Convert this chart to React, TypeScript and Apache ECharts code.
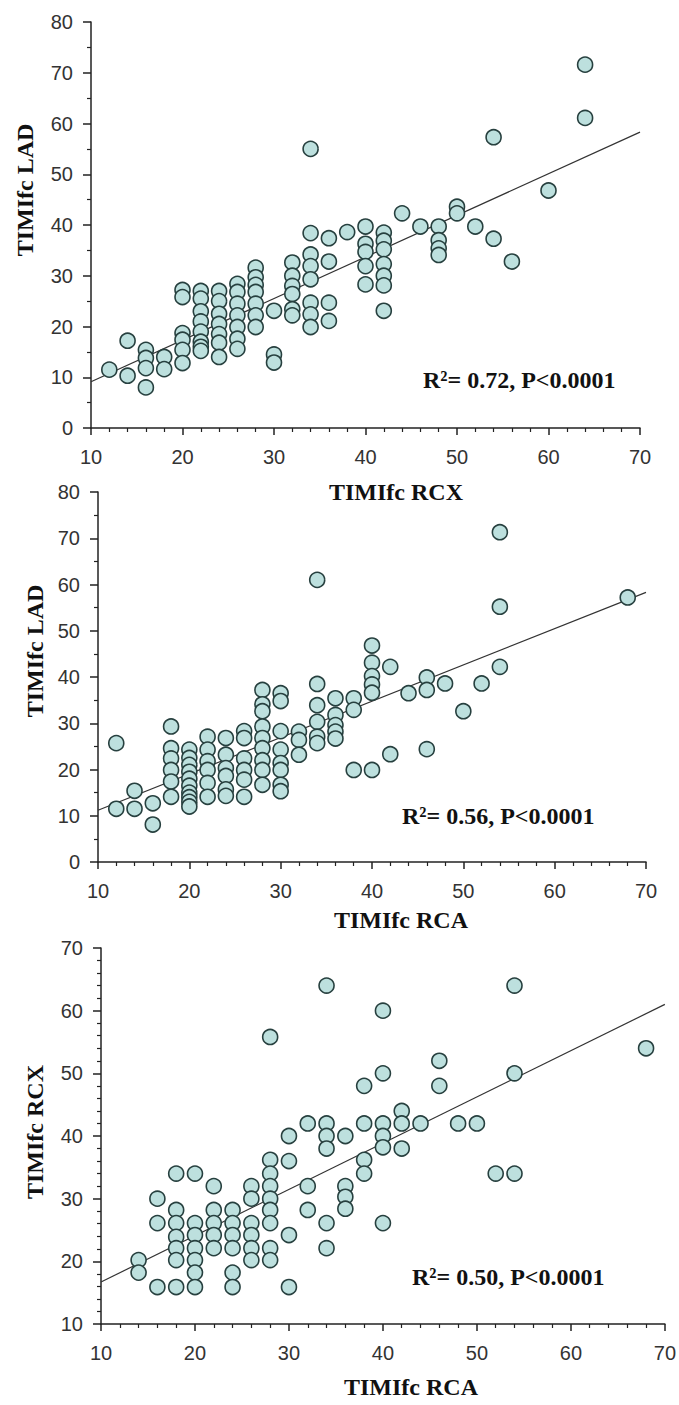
import React, { useEffect, useRef } from "react";
import * as echarts from "echarts";

// Panel 1: x = TIMIfc RCX, y = TIMIfc LAD
const rcxLad: number[][] = [
  [12, 11.5], [14, 17.2], [14, 10.3],
  [16, 15.4], [16, 13.8], [16, 11.8], [16, 8],
  [18, 14], [18, 11.6],
  [20, 27.2], [20, 25.8], [20, 18.7], [20, 17.4], [20, 15.4], [20, 12.8],
  [22, 27], [22, 25.5], [22, 23], [22, 21], [22, 19], [22, 17], [22, 16], [22, 15.2],
  [24, 27], [24, 25], [24, 22.5], [24, 20.5], [24, 18.5], [24, 16.8], [24, 14],
  [26, 28.4], [26, 26.8], [26, 24.5], [26, 22.2], [26, 19.9], [26, 17.6], [26, 15.6],
  [28, 31.6], [28, 29.7], [28, 28.2], [28, 26.8], [28, 24.5], [28, 22.2], [28, 19.9],
  [30, 23.1], [30, 14.5], [30, 12.9],
  [32, 32.6], [32, 30], [32, 28], [32, 26.4], [32, 23.4], [32, 22.2],
  [34, 55], [34, 38.4], [34, 34.2], [34, 31.9], [34, 29.3], [34, 24.7], [34, 22.4], [34, 19.9],
  [36, 37.4], [36, 32.8], [36, 24.7], [36, 21.1],
  [38, 38.6],
  [40, 39.7], [40, 36.3], [40, 34.7], [40, 31.9], [40, 28.3],
  [42, 38.5], [42, 36.9], [42, 35.2], [42, 32.3], [42, 30], [42, 28.1], [42, 23.1],
  [44, 42.3], [46, 39.7],
  [48, 39.7], [48, 37], [48, 35.4], [48, 34.1],
  [50, 43.6], [50, 42.3],
  [52, 39.7], [54, 57.3], [54, 37.3], [56, 32.8], [60, 46.8], [64, 71.6], [64, 61.1],
];

// Panel 2: x = TIMIfc RCA, y = TIMIfc LAD
const rcaLad: number[][] = [
  [12, 25.7], [12, 11.5], [14, 15.4], [14, 11.5], [16, 12.7], [16, 8.1],
  [18, 29.3], [18, 24.6], [18, 22.4], [18, 19.9], [18, 17.4], [18, 14.1],
  [20, 24.3], [20, 22.5], [20, 21], [20, 19.5], [20, 18], [20, 16.5], [20, 15], [20, 14], [20, 13], [20, 12],
  [22, 27.1], [22, 24.3], [22, 21.8], [22, 19.9], [22, 17.1], [22, 14.1],
  [24, 26.8], [24, 23.2], [24, 20.3], [24, 18.6], [24, 15.7], [24, 14.3],
  [26, 28.3], [26, 26.8], [26, 22.4], [26, 19.9], [26, 17.8], [26, 14.1],
  [28, 37.2], [28, 34.1], [28, 32.6], [28, 29.3], [28, 26.8], [28, 24.6], [28, 22], [28, 19.9], [28, 16.7],
  [30, 36.5], [30, 34.8], [30, 28.3], [30, 24.3], [30, 21.4], [30, 19.9], [30, 16.7], [30, 15.3],
  [32, 28.2], [32, 26.4], [32, 23.2],
  [34, 61], [34, 38.5], [34, 33.9], [34, 30.3], [34, 27.1], [34, 25.7],
  [36, 35.4], [36, 31.8], [36, 29.6], [36, 28.2], [36, 26.7],
  [38, 35.4], [38, 32.9], [38, 19.9],
  [40, 46.8], [40, 43.1], [40, 40.2], [40, 38.4], [40, 36.6], [40, 19.9],
  [42, 42.2], [42, 23.3], [44, 36.5], [46, 39.9], [46, 37.2], [46, 24.4], [48, 38.6], [50, 32.6], [52, 38.6],
  [54, 71.3], [54, 55.2], [54, 42.2], [68, 57.2],
];

// Panel 3: x = TIMIfc RCA, y = TIMIfc RCX
const rcaRcx: number[][] = [
  [14, 20.2], [14, 18.2],
  [16, 30], [16, 26.1], [16, 15.9],
  [18, 34], [18, 28.2], [18, 26.1], [18, 23.9], [18, 22.1], [18, 20.2], [18, 15.9],
  [20, 34], [20, 26.1], [20, 24.2], [20, 22.1], [20, 20.2], [20, 18.2], [20, 15.9],
  [22, 32], [22, 28.2], [22, 26.1], [22, 24.2], [22, 22.1],
  [24, 28.2], [24, 26.1], [24, 24.2], [24, 22.1], [24, 18.2], [24, 15.9],
  [26, 32], [26, 30], [26, 26.1], [26, 24.2], [26, 22.1], [26, 20.2],
  [28, 55.8], [28, 36.2], [28, 34], [28, 32], [28, 30], [28, 28.2], [28, 26.1], [28, 22.1], [28, 20.2],
  [30, 40], [30, 36], [30, 24.2], [30, 15.9],
  [32, 42], [32, 32], [32, 28.2],
  [34, 64], [34, 42], [34, 40], [34, 38], [34, 26.1], [34, 22.1],
  [36, 40], [36, 32], [36, 30.3], [36, 28.4],
  [38, 48], [38, 42], [38, 36.2], [38, 34],
  [40, 60], [40, 50], [40, 42], [40, 40], [40, 38.2], [40, 26.1],
  [42, 44], [42, 42], [42, 38], [44, 42], [46, 52], [46, 48], [48, 42], [50, 42],
  [52, 34], [54, 64], [54, 50], [54, 34], [68, 54],
];

// Regression lines (end points)
const fit1: number[][] = [[10, 9.1], [70, 58.3]];
const fit2: number[][] = [[10, 11.2], [70, 58.3]];
const fit3: number[][] = [[10, 16.7], [70, 61]];

const xTitles = ["TIMIfc RCX", "TIMIfc RCA", "TIMIfc RCA"];
const yTitles = ["TIMIfc LAD", "TIMIfc LAD", "TIMIfc RCX"];
const statTexts = ["R\u00b2= 0.72, P<0.0001", "R\u00b2= 0.56, P<0.0001", "R\u00b2= 0.50, P<0.0001"];
const yRanges = [[0, 80], [0, 80], [10, 70]];
const yMinorSplits = [2, 2, 5];
const xRange = [10, 70];

export default function App() {
  const ref = useRef<HTMLDivElement>(null);
  useEffect(() => {
    document.body.style.margin = "0";
    if (!ref.current) return;
    const chart = echarts.init(ref.current, null, { renderer: "svg" });

    const grids = [
      { left: 91, top: 22, width: 549, height: 406 },
      { left: 98, top: 492, width: 548, height: 370 },
      { left: 101, top: 948, width: 566, height: 376 },
    ];
    const axisColor = "#222";
    const labelStyle = {
      color: "#333",
      fontSize: 20,
      fontFamily: "Liberation Sans, Arial, sans-serif",
    };
    const xAxes = grids.map((_, i) => ({
      type: "value",
      gridIndex: i,
      min: xRange[0],
      max: xRange[1],
      interval: 10,
      axisLine: { show: true, onZero: false, lineStyle: { color: axisColor, width: 1.5 } },
      axisTick: { show: true, length: 7, lineStyle: { color: axisColor, width: 1.5 } },
      minorTick: { show: true, splitNumber: 5, length: 4, lineStyle: { color: axisColor, width: 1.2 } },
      splitLine: { show: false },
      axisLabel: { ...labelStyle, margin: 19 },
    }));
    const yAxes = grids.map((_, i) => ({
      type: "value",
      gridIndex: i,
      min: yRanges[i][0],
      max: yRanges[i][1],
      interval: 10,
      axisLine: { show: true, onZero: false, lineStyle: { color: axisColor, width: 1.5 } },
      axisTick: { show: true, length: 8, lineStyle: { color: axisColor, width: 1.5 } },
      minorTick: { show: true, splitNumber: yMinorSplits[i], length: 4, lineStyle: { color: axisColor, width: 1.2 } },
      splitLine: { show: false },
      axisLabel: { ...labelStyle, margin: 18 },
    }));

    const scatterStyle = {
      color: "#bde0de",
      borderColor: "#27403f",
      borderWidth: 1.6,
      opacity: 1,
    };
    const datasets = [rcxLad, rcaLad, rcaRcx];
    const fits = [fit1, fit2, fit3];
    const series: any[] = [];
    datasets.forEach((d, i) => {
      series.push({
        type: "line",
        xAxisIndex: i,
        yAxisIndex: i,
        data: fits[i],
        symbol: "none",
        lineStyle: { color: "#333", width: 1.2 },
        z: 1,
      });
      series.push({
        type: "scatter",
        xAxisIndex: i,
        yAxisIndex: i,
        data: d,
        symbol: "circle",
        symbolSize: 15,
        itemStyle: scatterStyle,
        z: 2,
      });
    });

    const titleFont = "bold 24px 'Liberation Serif', 'Times New Roman', serif";
    const xTitlePos = [
      [396, 492],
      [401, 920],
      [411, 1387],
    ];
    const yTitlePos = [
      [25, 190],
      [35, 651],
      [35, 1132],
    ];
    const statPos = [
      [423, 380],
      [402, 816],
      [412, 1277],
    ];
    const graphic: any[] = [];
    for (let i = 0; i < 3; i++) {
      graphic.push({
        type: "text",
        x: xTitlePos[i][0],
        y: xTitlePos[i][1],
        style: {
          text: xTitles[i],
          font: titleFont,
          fill: "#111",
          textAlign: "center",
          textVerticalAlign: "middle",
        },
      });
      graphic.push({
        type: "text",
        x: yTitlePos[i][0],
        y: yTitlePos[i][1],
        rotation: Math.PI / 2,
        style: {
          text: yTitles[i],
          font: titleFont,
          fill: "#111",
          textAlign: "center",
          textVerticalAlign: "middle",
        },
      });
      graphic.push({
        type: "text",
        x: statPos[i][0],
        y: statPos[i][1],
        style: {
          text: statTexts[i],
          font: "bold 24px 'Liberation Serif', 'Times New Roman', serif",
          fill: "#111",
          textAlign: "left",
          textVerticalAlign: "middle",
        },
      });
    }

    chart.setOption({
      animation: false,
      backgroundColor: "#fff",
      grid: grids,
      xAxis: xAxes,
      yAxis: yAxes,
      series,
      graphic,
    });
    return () => chart.dispose();
  }, []);
  return <div ref={ref} style={{ width: 679, height: 1405 }} />;
}
